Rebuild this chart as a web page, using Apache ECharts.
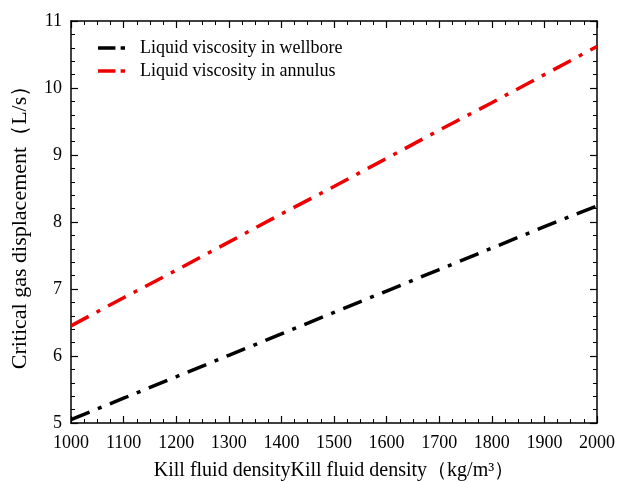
<!DOCTYPE html>
<html><head><meta charset="utf-8">
<script src="https://cdn.jsdelivr.net/npm/echarts@6/dist/echarts.min.js"></script>
<style>html,body{margin:0;padding:0;background:#fff}#c{width:620px;height:481px}</style>
</head><body><div id="c"></div>
<script>
const densities = [1000,1100,1200,1300,1400,1500,1600,1700,1800,1900,2000];
const wellbore = [5.05,5.37,5.69,6.01,6.33,6.65,6.97,7.29,7.61,7.93,8.24];
const annulus = [6.45,6.87,7.28,7.70,8.12,8.53,8.95,9.37,9.78,10.20,10.62];
const seriesNames = ['Liquid viscosity in wellbore','Liquid viscosity in annulus'];
const xTitle = 'Kill fluid densityKill fluid density（kg/m³）';
const yTitle = 'Critical gas displacement（L/s）';

const font = 'Liberation Serif, Times New Roman, serif';
const dashIcon = 'path://M0,0h20v4h-20z M26,0h5v4h-5z';
const axisCommon = {
  axisLine:{show:true,lineStyle:{color:'#000',width:1.5}},
  axisTick:{show:true,inside:true,length:7,lineStyle:{color:'#000',width:1.2}},
  splitLine:{show:false},
};
const minorX = {minorTick:{show:true,splitNumber:4,length:4,lineStyle:{color:'#000',width:1}}};
const minorY = {minorTick:{show:true,splitNumber:5,length:4,lineStyle:{color:'#000',width:1}}};
const chart = echarts.init(document.getElementById('c'));
chart.setOption({
  animation:false,
  grid:{left:71,right:23,top:21,bottom:58,containLabel:false,outerBoundsMode:'none'},
  legend:{left:93,top:34,orient:'vertical',itemWidth:27,itemHeight:4,itemGap:5,
    textStyle:{fontFamily:font,fontSize:18,color:'#000',lineHeight:18,padding:[0,0,0,10]},
    data:seriesNames.map(n=>({name:n,icon:dashIcon}))},
  xAxis:[
    Object.assign({type:'value',min:1000,max:2000,interval:100,
      name:xTitle,nameLocation:'middle',nameGap:38,
      nameTextStyle:{fontFamily:font,fontSize:20,color:'#000'},
      axisLabel:{fontFamily:font,fontSize:18,color:'#000',margin:11,formatter:v=>String(v)}},axisCommon,minorX),
    Object.assign({type:'value',position:'top',min:1000,max:2000,interval:100,
      axisLabel:{show:false}},axisCommon,minorX)
  ],
  yAxis:[
    Object.assign({type:'value',min:5,max:11,interval:1,
      name:yTitle,nameLocation:'middle',nameGap:40,
      nameTextStyle:{fontFamily:font,fontSize:22,color:'#000'},
      axisLabel:{fontFamily:font,fontSize:18,color:'#000',margin:9}},axisCommon,minorY),
    Object.assign({type:'value',position:'right',min:5,max:11,interval:1,
      axisLabel:{show:false}},axisCommon,minorY)
  ],
  series:[
    {name:seriesNames[0],type:'line',symbol:'none',
      data:densities.map((d,i)=>[d,wellbore[i]]),
      lineStyle:{color:'#000',width:3.5,type:[20,9,4,9]},itemStyle:{color:'#000'}},
    {name:seriesNames[1],type:'line',symbol:'none',
      data:densities.map((d,i)=>[d,annulus[i]]),
      lineStyle:{color:'#ee0000',width:3.5,type:[20,9,4,9]},itemStyle:{color:'#ee0000'}}
  ]
});
</script></body></html>
